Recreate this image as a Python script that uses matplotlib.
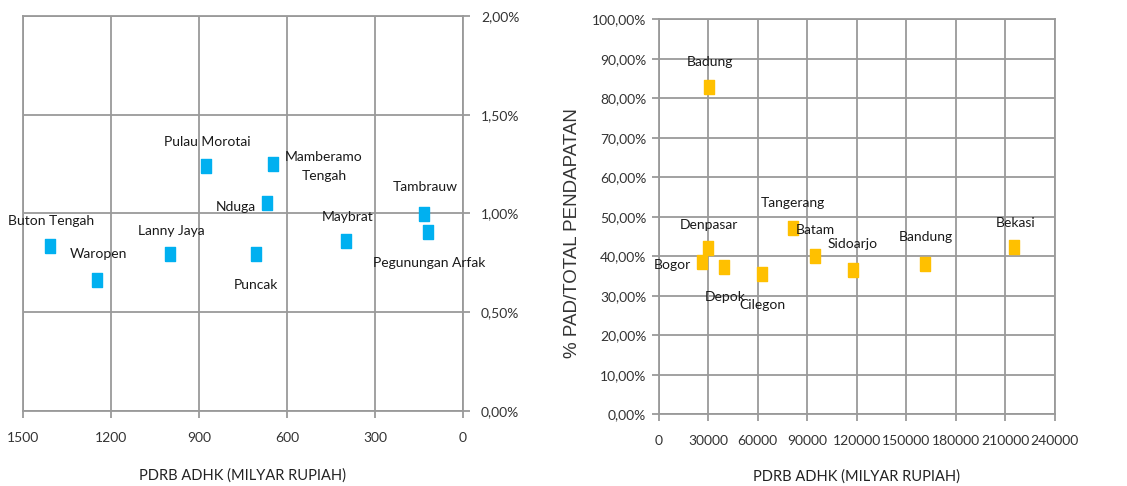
import matplotlib
matplotlib.use("Agg")
import matplotlib.pyplot as plt
from matplotlib.ticker import FuncFormatter

# panel kiri: daerah dengan PDRB kecil
kiri_nama = ["Buton Tengah", "Waropen", "Lanny Jaya", "Pulau Morotai",
             "Mamberamo\nTengah", "Nduga", "Puncak", "Maybrat",
             "Tambrauw", "Pegunungan Arfak"]
kiri_pdrb = [1408, 1247, 1000, 877, 649, 667, 707, 399, 132, 120]
kiri_pad = [0.837, 0.662, 0.793, 1.242, 1.251, 1.052, 0.793, 0.861, 0.999, 0.906]

# panel kanan: daerah dengan PAD tinggi
kanan_nama = ["Badung", "Denpasar", "Bogor", "Depok", "Cilegon",
              "Tangerang", "Batam", "Sidoarjo", "Bandung", "Bekasi"]
kanan_pdrb = [30300, 29700, 26300, 39600, 62600, 81400, 94700, 117700, 161200, 215500]
kanan_pad = [82.8, 42.0, 38.5, 37.4, 35.4, 47.2, 40.1, 36.5, 38.1, 42.4]

kiri_xticks = [1500, 1200, 900, 600, 300, 0]
kiri_yticks = [0, 0.5, 1.0, 1.5, 2.0]
kanan_xticks = list(range(0, 240001, 30000))
kanan_yticks = list(range(0, 101, 10))

# posisi label (offset dalam points, ha)
kiri_offset = {
    "Buton Tengah": (1, 18, "center"), "Waropen": (1, 19, "center"),
    "Lanny Jaya": (1, 17, "center"), "Pulau Morotai": (1, 17, "center"),
    "Mamberamo\nTengah": (37, -2, "center"), "Nduga": (-8, -3, "right"),
    "Puncak": (0, -22, "center"), "Maybrat": (1, 17, "center"),
    "Tambrauw": (1, 19, "center"), "Pegunungan Arfak": (1, -22, "center"),
}
kanan_offset = {
    "Badung": (1, 18, "center"), "Denpasar": (1, 17, "center"),
    "Bogor": (-8, -2, "right"), "Depok": (1, -22, "center"),
    "Cilegon": (0, -22, "center"), "Tangerang": (0, 18, "center"),
    "Batam": (0, 19, "center"), "Sidoarjo": (0, 19, "center"),
    "Bandung": (1, 19, "center"), "Bekasi": (1, 17, "center"),
}

GRID = "#9a9a9a"
FONT = "Lato"
kotak = [(-0.36, -0.5), (0.36, -0.5), (0.36, 0.5), (-0.36, 0.5), (-0.36, -0.5)]

plt.rcParams["font.family"] = [FONT, "DejaVu Sans"]
fig = plt.figure(figsize=(11.27, 4.86), dpi=100)


def persen(v, _):
    return f"{v:.2f}".replace(".", ",") + "%"


def gaya_axes(ax):
    for s in ax.spines.values():
        s.set_color(GRID)
        s.set_linewidth(1.3)
    ax.grid(True, color=GRID, linewidth=1.3)
    ax.set_axisbelow(True)
    ax.tick_params(colors=GRID, labelcolor="#333333", labelsize=10,
                   length=5, width=1.3)


def label_titik(ax, nama, xs, ys, offsets):
    for n, x, y in zip(nama, xs, ys):
        dx, dy, ha = offsets[n]
        ax.annotate(n, (x, y), xytext=(dx, dy), textcoords="offset points",
                    ha=ha, va="center", fontsize=10, color="#1a1a1a",
                    linespacing=1.7)


# kiri
ax1 = fig.add_axes([0.0204, 0.1543, 0.3904, 0.8128])
gaya_axes(ax1)
ax1.scatter(kiri_pdrb, kiri_pad, marker=kotak, s=110, color="#00B0F0", zorder=3)
ax1.set_xlim(1500, 0)
ax1.set_ylim(0, 2)
ax1.set_xticks(kiri_xticks)
ax1.set_yticks(kiri_yticks)
ax1.yaxis.tick_right()
ax1.yaxis.set_major_formatter(FuncFormatter(persen))
ax1.tick_params(axis="x", pad=10)
ax1.tick_params(axis="y", pad=8)
ax1.set_xlabel("PDRB ADHK (MILYAR RUPIAH)", fontsize=10.5, color="#222222",
               labelpad=18)
label_titik(ax1, kiri_nama, kiri_pdrb, kiri_pad, kiri_offset)

# kanan
ax2 = fig.add_axes([0.5845, 0.1475, 0.3514, 0.8128])
gaya_axes(ax2)
ax2.scatter(kanan_pdrb, kanan_pad, marker=kotak, s=110, color="#FFC000", zorder=3)
ax2.set_xlim(0, 240000)
ax2.set_ylim(0, 100)
ax2.set_xticks(kanan_xticks)
ax2.set_yticks(kanan_yticks)
ax2.yaxis.set_major_formatter(FuncFormatter(persen))
ax2.tick_params(axis="x", pad=10)
ax2.tick_params(axis="y", pad=4)
ax2.set_xlabel("PDRB ADHK (MILYAR RUPIAH)", fontsize=10.5, color="#222222",
               labelpad=16)
ax2.set_ylabel("% PAD/TOTAL PENDAPATAN", fontsize=13.5, color="#333333",
               family="Liberation Sans")
ax2.yaxis.set_label_coords(-0.197, 0.459)
label_titik(ax2, kanan_nama, kanan_pdrb, kanan_pad, kanan_offset)

fig.savefig("out.png", dpi=100)
